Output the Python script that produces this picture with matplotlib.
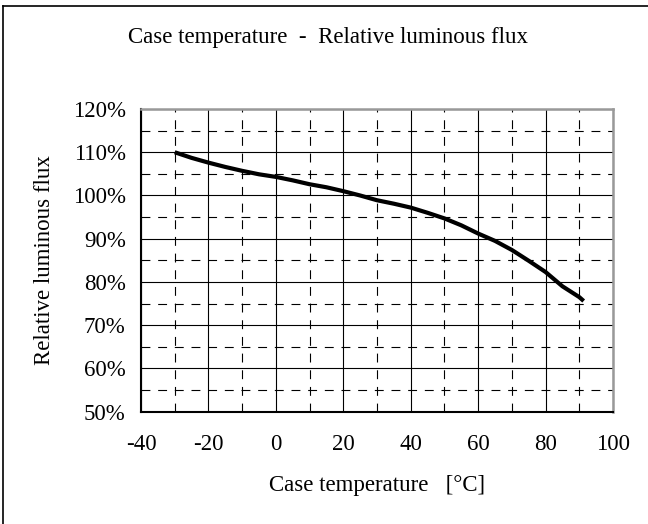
import numpy as np
import matplotlib as mpl
mpl.use('Agg')
from matplotlib import pyplot as plt
from matplotlib.ticker import MultipleLocator, FuncFormatter

plt.rcParams['font.family'] = ['Liberation Serif', 'DejaVu Serif']
plt.rcParams['axes.unicode_minus'] = False

# data
temp = [-30, -25, -20, -15, -10, -5, 0, 5, 10, 15, 20, 25, 30, 35, 40, 45,
        50, 55, 60, 65, 70, 75, 80, 85, 90, 91.3]
flux = [1.100, 1.087, 1.076, 1.066, 1.057, 1.049, 1.043, 1.035, 1.026, 1.019,
        1.010, 1.000, 0.989, 0.981, 0.972, 0.960, 0.947, 0.931, 0.912, 0.895,
        0.874, 0.849, 0.823, 0.790, 0.765, 0.756]

title = 'Case temperature  -  Relative luminous flux'
xlabel = 'Case temperature   [\u00b0C]'
ylabel = 'Relative luminous flux'

FS = 16.5

fig = plt.figure(figsize=(6.48, 5.24), dpi=100)
ax = fig.add_axes([141/648, 1 - 411.7/524, 472/648, 302.7/524])

ax.plot(temp, flux, color='black', linewidth=3.0, solid_capstyle='butt', zorder=3)

ax.set_xlim(-40, 100)
ax.set_ylim(0.5, 1.2)
ax.xaxis.set_major_locator(MultipleLocator(20))
ax.xaxis.set_minor_locator(MultipleLocator(10))
ax.yaxis.set_major_locator(MultipleLocator(0.1))
ax.yaxis.set_minor_locator(MultipleLocator(0.05))
ax.yaxis.set_major_formatter(FuncFormatter(lambda v, p: '%d%%' % round(v * 100)))

ax.grid(which='major', color='black', linewidth=0.8, linestyle='-')
ax.grid(which='minor', color='black', linewidth=0.8, linestyle=(0, (8, 7)))
ax.set_axisbelow(True)

ax.tick_params(which='both', length=0, labelsize=FS)
ax.tick_params(axis='x', pad=16)
ax.tick_params(axis='y', pad=11)

for s in ['left', 'bottom']:
    ax.spines[s].set_color('black')
    ax.spines[s].set_linewidth(1.5)
for s in ['top', 'right']:
    ax.spines[s].set_color('#999999')
    ax.spines[s].set_linewidth(1.8)

fig.text(328/648, 1 - 38/524, title, ha='center', va='center', fontsize=FS)
fig.text(377/648, 1 - 485/524, xlabel, ha='center', va='center', fontsize=FS)
fig.text(45/648, 1 - 260/524, ylabel, ha='center', va='center',
         rotation=90, fontsize=FS)

# outer frame (only top and left edges are visible in the picture)
fig.add_artist(plt.Line2D([3/648, 3/648], [0, 1 - 6/524], color='black',
                          linewidth=1.2, transform=fig.transFigure))
fig.add_artist(plt.Line2D([3/648, 1], [1 - 6/524, 1 - 6/524], color='black',
                          linewidth=1.2, transform=fig.transFigure))

fig.savefig('out.png', dpi=100)
